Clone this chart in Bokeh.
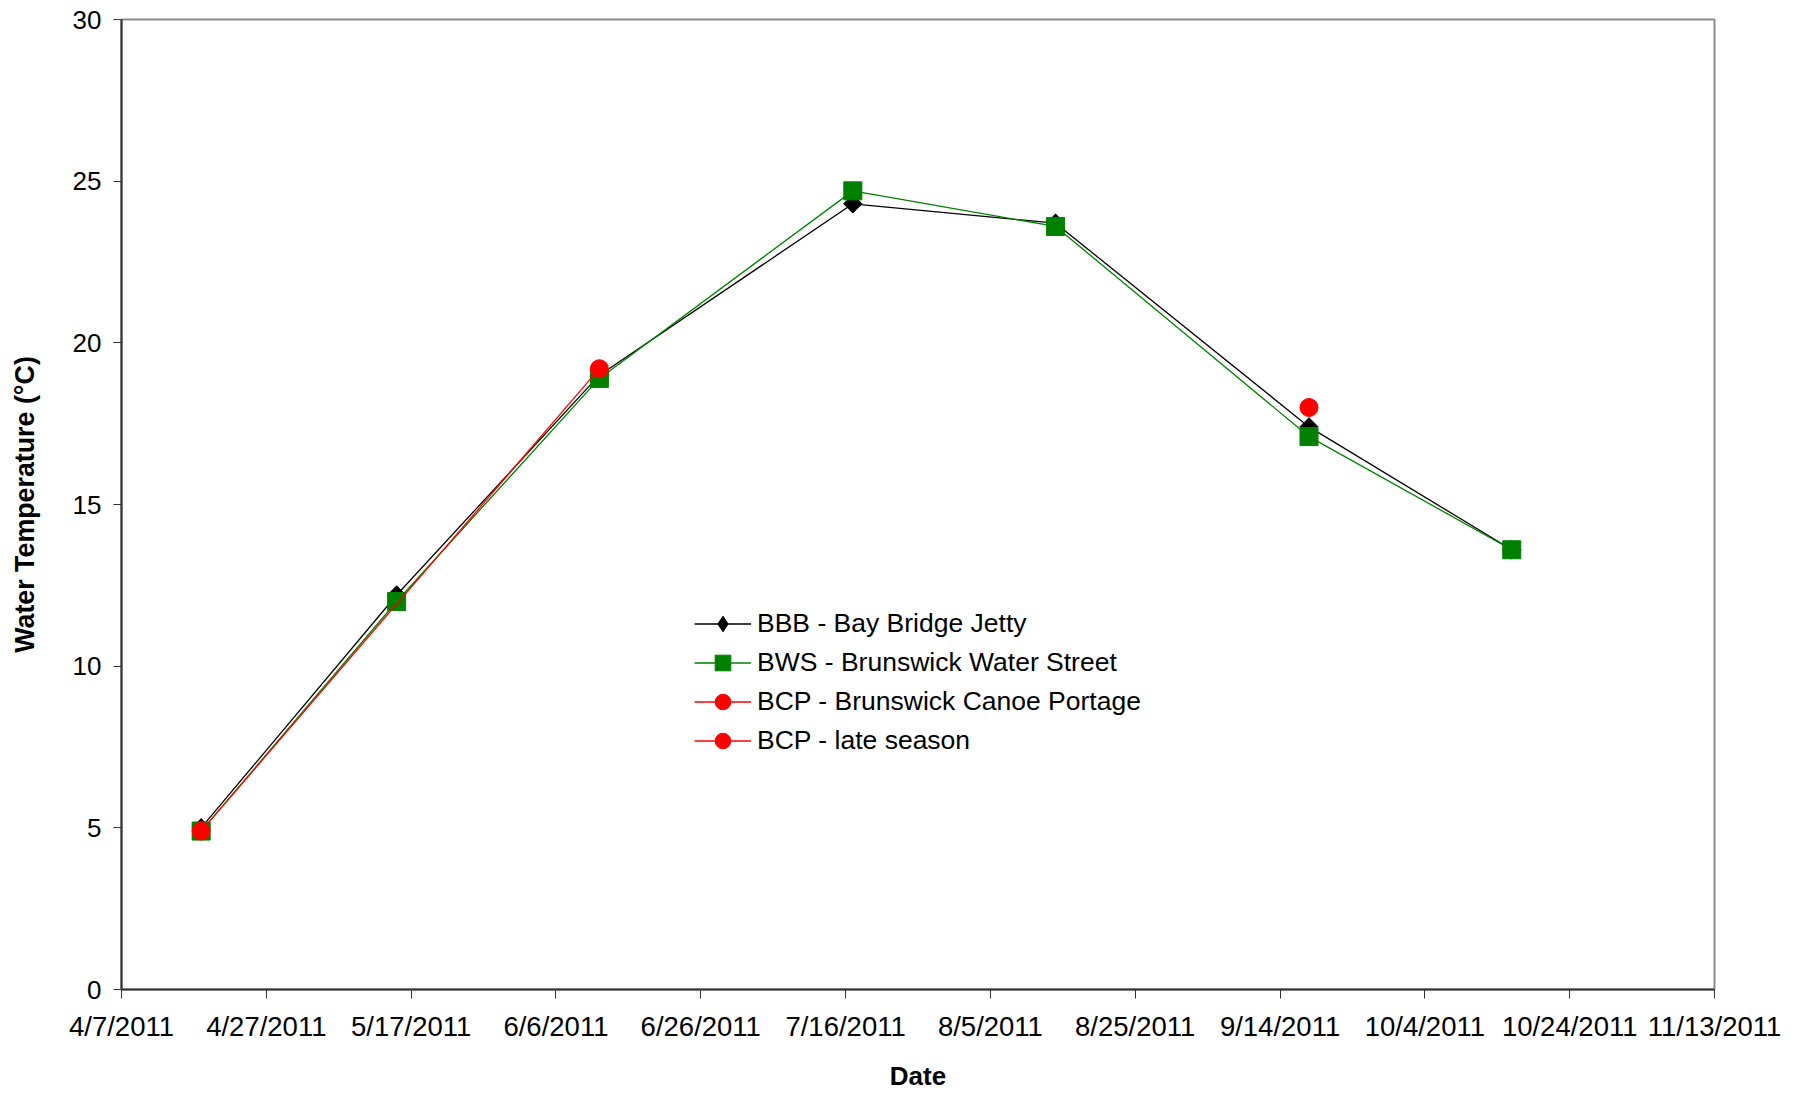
import numpy as np
import pandas as pd
from bokeh.plotting import figure
from bokeh.models import FixedTicker, Legend, LegendItem, Range1d
from bokeh.embed import file_html
from bokeh.resources import INLINE

# ---- data ----
bbb_dates = ["2011-04-18", "2011-05-15", "2011-06-12", "2011-07-17", "2011-08-14", "2011-09-18", "2011-10-16"]
bbb_temp = [5.0, 12.2, 19.0, 24.3, 23.7, 17.4, 13.6]

bws_dates = ["2011-04-18", "2011-05-15", "2011-06-12", "2011-07-17", "2011-08-14", "2011-09-18", "2011-10-16"]
bws_temp = [4.9, 12.0, 18.9, 24.7, 23.6, 17.1, 13.6]

bcp_dates = ["2011-04-18", "2011-06-12"]
bcp_temp = [4.9, 19.2]

bcp_late_dates = ["2011-09-18"]
bcp_late_temp = [18.0]

x_tick_labels = ["4/7/2011", "4/27/2011", "5/17/2011", "6/6/2011", "6/26/2011", "7/16/2011",
                 "8/5/2011", "8/25/2011", "9/14/2011", "10/4/2011", "10/24/2011", "11/13/2011"]
y_ticks = [0, 5, 10, 15, 20, 25, 30]


def to_ms(dates, fmt=None):
    s = pd.to_datetime(pd.Series(dates), format=fmt)
    return [int(v) for v in (s.astype("int64") // 10**6)]


x_ticks = to_ms(x_tick_labels, fmt="%m/%d/%Y")

FONT = "Liberation Sans"

p = figure(width=1795, height=1093, output_backend="svg", toolbar_location=None,
           min_border_left=121, min_border_right=81, min_border_top=19, min_border_bottom=101)
p.x_range = Range1d(x_ticks[0], x_ticks[-1])
p.y_range = Range1d(0, 30)

p.xgrid.visible = False
p.ygrid.visible = False
p.outline_line_color = "#8c8c8c"
p.outline_line_width = 2

# series
bbb_x = to_ms(bbb_dates)
r1l = p.line(bbb_x, bbb_temp, line_color="black", line_width=1.3)
# legend proxy (hidden under the rotated squares)
r1k = p.scatter(bbb_x, bbb_temp, marker="diamond", size=18,
                fill_color="black", line_color="black")
r1m = p.scatter(bbb_x, bbb_temp, marker="square", angle=np.pi / 4, size=13,
                fill_color="black", line_color="black")
r2l = p.line(to_ms(bws_dates), bws_temp, line_color="#008000", line_width=1.3)
r2m = p.scatter(to_ms(bws_dates), bws_temp, marker="square", size=18,
                fill_color="#008000", line_color="#008000")
r3l = p.line(to_ms(bcp_dates), bcp_temp, line_color="red", line_width=1.3)
r3m = p.scatter(to_ms(bcp_dates), bcp_temp, marker="circle", size=18,
                fill_color="red", line_color="red")
r4l = p.line(to_ms(bcp_late_dates), bcp_late_temp, line_color="red", line_width=1.3)
r4m = p.scatter(to_ms(bcp_late_dates), bcp_late_temp, marker="circle", size=18,
                fill_color="red", line_color="red")

legend = Legend(items=[
    LegendItem(label="BBB - Bay Bridge Jetty", renderers=[r1l, r1k]),
    LegendItem(label="BWS - Brunswick Water Street", renderers=[r2l, r2m]),
    LegendItem(label="BCP - Brunswick Canoe Portage", renderers=[r3l, r3m]),
    LegendItem(label="BCP - late season", renderers=[r4l, r4m]),
], location=(573, 229))
legend.border_line_color = None
legend.background_fill_alpha = 0
legend.padding = 0
legend.margin = 0
legend.spacing = 0
legend.glyph_width = 57
legend.glyph_height = 39
legend.label_height = 39
legend.label_standoff = 6
legend.label_text_font = FONT
legend.label_text_font_size = "26.5px"
legend.label_text_color = "black"
p.add_layout(legend, "center")

# axes
xa = p.xaxis[0]
xa.ticker = FixedTicker(ticks=x_ticks)
xa.major_label_overrides = {t: lab for t, lab in zip(x_ticks, x_tick_labels)}
xa.axis_label = "Date"
ya = p.yaxis[0]
ya.ticker = FixedTicker(ticks=y_ticks)
ya.axis_label = "Water Temperature (°C)"

for ax in (xa, ya):
    ax.axis_line_color = "#333333"
    ax.axis_line_width = 2
    ax.major_tick_line_color = "#333333"
    ax.major_tick_line_width = 1
    ax.major_tick_in = 0
    ax.major_tick_out = 8
    ax.minor_tick_line_color = None
    ax.major_label_text_font = FONT
    ax.major_label_text_font_size = "26px"
    ax.major_label_text_color = "black"
    ax.axis_label_text_font = FONT
    ax.axis_label_text_font_size = "26px"
    ax.axis_label_text_font_style = "bold"
    ax.axis_label_text_color = "black"

xa.major_tick_out = 9
xa.major_label_text_font_size = "27.5px"
xa.major_label_standoff = 12
xa.axis_label_standoff = 16
ya.axis_label_text_font_size = "26.8px"
ya.major_label_standoff = 12
ya.axis_label_standoff = 30

open("out.html", "w").write(file_html(p, INLINE))
